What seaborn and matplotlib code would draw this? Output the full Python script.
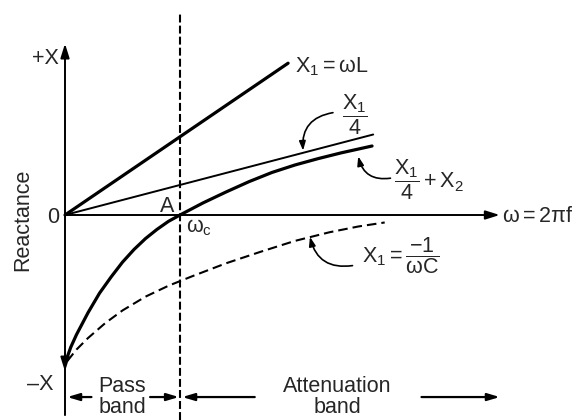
import matplotlib
matplotlib.use("Agg")
import matplotlib.pyplot as plt
import seaborn as sns

# Reactance curves of a constant-k filter section (omega normalised to omega_c = 1)
omega_c = 1.0

omega_L = [0.0, 1.94]
react_L = [0.0, 1.32]

omega_quarter = [0.0, 2.68]
react_quarter = [0.0, 0.70]

omega_sum = [0.0, 0.05, 0.1, 0.2, 0.3, 0.4, 0.5, 0.6, 0.7, 0.8, 0.9, 1.0,
             1.2, 1.4, 1.6, 1.8, 2.0, 2.2, 2.4, 2.67]
react_sum = [-1.29, -1.15, -1.04, -0.85, -0.68, -0.54, -0.41, -0.30, -0.205, -0.125, -0.055, 0.0,
             0.105, 0.20, 0.29, 0.37, 0.435, 0.49, 0.54, 0.60]

omega_cap = [0.02, 0.1, 0.2, 0.35, 0.5, 0.7, 0.9, 1.1, 1.4, 1.7, 2.0, 2.3, 2.55, 2.78]
react_cap = [-1.27, -1.17, -1.07, -0.94, -0.83, -0.71, -0.615, -0.535, -0.42, -0.32, -0.225,
             -0.15, -0.10, -0.065]

sns.set_theme(style="white")
plt.rcParams["font.family"] = ["Liberation Sans", "DejaVu Sans"]
plt.rcParams["mathtext.fontset"] = "custom"
plt.rcParams["mathtext.rm"] = "Liberation Sans"
plt.rcParams["mathtext.it"] = "Liberation Sans"
plt.rcParams["mathtext.default"] = "regular"

FS = 15.5
fig = plt.figure(figsize=(5.76, 4.2), dpi=100)
ax = fig.add_axes([0, 0, 1, 1])
ax.set_xlim(-0.5652, 4.4435)
ax.set_ylim(-1.7826, 1.8696)
ax.axis("off")

# coordinate axes
arrow_kw = dict(arrowstyle="-|>,head_length=0.7,head_width=0.22", color="black", lw=1.4,
                shrinkA=0, shrinkB=0)
ax.annotate("", xy=(0, 1.49), xytext=(0, -1.74), arrowprops=arrow_kw)
ax.annotate("", xy=(3.78, 0), xytext=(0, 0), arrowprops=arrow_kw)
ax.annotate("", xy=(0, -1.36), xytext=(0, -1.2), arrowprops=arrow_kw)

# curves
line_kw = dict(ax=ax, color="black", estimator=None, sort=False)
sns.lineplot(x=omega_L, y=react_L, lw=2.3, **line_kw)
sns.lineplot(x=omega_quarter, y=react_quarter, lw=1.4, **line_kw)
sns.lineplot(x=omega_sum, y=react_sum, lw=2.3, **line_kw)
sns.lineplot(x=omega_cap, y=react_cap, lw=1.5, linestyle=(0, (4.6, 2.4)), **line_kw)

# cut-off line
ax.axvline(omega_c, ymin=0, ymax=0.969, color="black", lw=1.5, linestyle=(0, (3.8, 1.5)))

# axis labels
ax.text(-0.174, 1.365, "+X", fontsize=FS, ha="center", va="center")
ax.text(-0.217, -1.478, "\u2013X", fontsize=FS, ha="center", va="center")
ax.text(-0.104, -0.026, "0", fontsize=FS, ha="center", va="center")
ax.text(-0.365, -0.04, "Reactance", fontsize=FS, ha="center", va="center", rotation=90)
ax.text(3.80, -0.017, r"$\omega = 2\pi f$", fontsize=FS, ha="left", va="center")
ax.text(0.887, 0.07, "A", fontsize=FS, ha="center", va="center")
ax.text(1.17, -0.11, r"$\omega_c$", fontsize=FS, ha="center", va="center")

# curve labels
ax.text(2.0, 1.29, r"$X_1 = \omega L$", fontsize=FS, ha="left", va="center")
ax.text(2.52, 0.87, r"$\dfrac{X_1}{4}$", fontsize=FS, ha="center", va="center")
ax.text(2.86, 0.31, r"$\dfrac{X_1}{4} + X_2$", fontsize=FS, ha="left", va="center")
ax.text(2.58, -0.35, r"$X_1 = \dfrac{-1}{\omega C}$", fontsize=FS, ha="left", va="center")

lead_kw = dict(arrowstyle="-|>,head_length=0.45,head_width=0.16", color="black", lw=1.2,
               shrinkA=0, shrinkB=0)
ax.annotate("", xy=(2.07, 0.56), xytext=(2.33, 0.89),
            arrowprops=dict(lead_kw, connectionstyle="arc3,rad=0.45"))
ax.annotate("", xy=(2.55, 0.51), xytext=(2.83, 0.32),
            arrowprops=dict(lead_kw, connectionstyle="arc3,rad=-0.45"))
ax.annotate("", xy=(2.13, -0.19), xytext=(2.50, -0.44),
            arrowprops=dict(lead_kw, connectionstyle="arc3,rad=-0.45"))

# pass band / attenuation band markers
band_y = -1.583
band_kw = dict(arrowstyle="-|>,head_length=0.6,head_width=0.18", color="black", lw=1.6,
               shrinkA=0, shrinkB=0)
ax.annotate("", xy=(0.02, band_y), xytext=(0.23, band_y), arrowprops=band_kw)
ax.annotate("", xy=(0.99, band_y), xytext=(0.74, band_y), arrowprops=band_kw)
ax.annotate("", xy=(1.02, band_y), xytext=(1.65, band_y), arrowprops=band_kw)
ax.annotate("", xy=(3.78, band_y), xytext=(3.10, band_y), arrowprops=band_kw)
ax.text(0.496, band_y, "Pass\nband", fontsize=FS, ha="center", va="center", linespacing=0.95)
ax.text(2.37, band_y, "Attenuation\nband", fontsize=FS, ha="center", va="center", linespacing=0.95)

fig.savefig("out.png", dpi=100, facecolor="white")
